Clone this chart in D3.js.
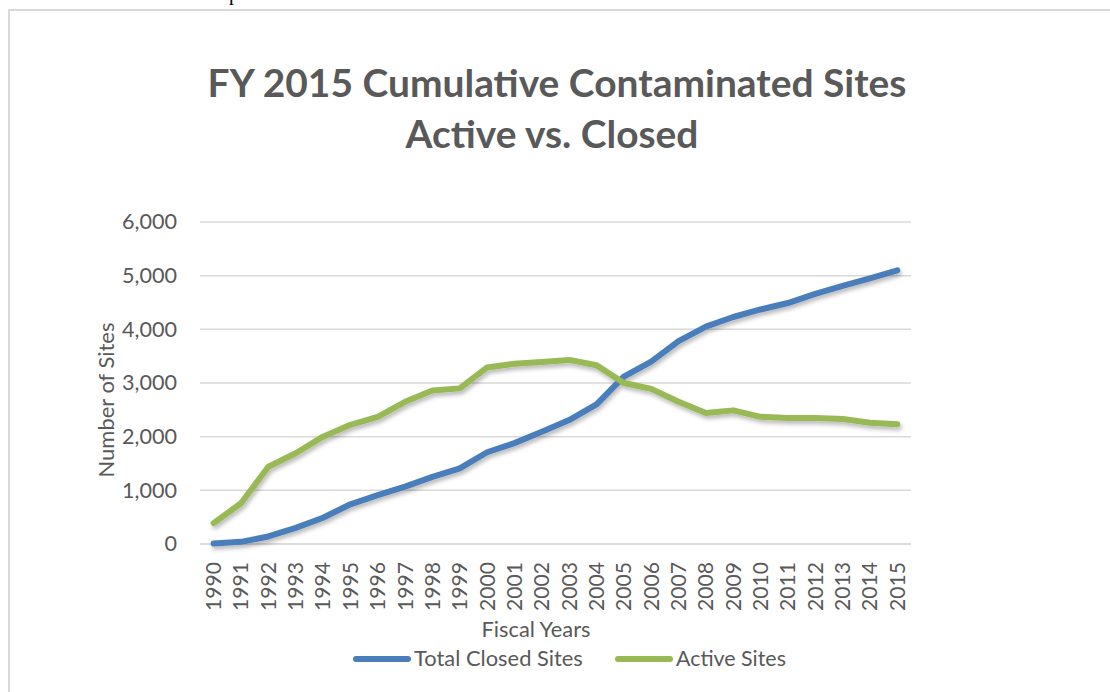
<!DOCTYPE html>
<html>
<head>
<meta charset="utf-8">
<script src="https://cdn.jsdelivr.net/npm/d3@7/dist/d3.min.js"></script>
<style>
  html, body { margin: 0; padding: 0; background: #fff; }
  svg { display: block; font-family: Lato, "Open Sans", sans-serif; }
</style>
</head>
<body>
<div id="chart"></div>
<script>
// Values
const years = ["1990", "1991", "1992", "1993", "1994", "1995", "1996", "1997", "1998", "1999",
    "2000", "2001", "2002", "2003", "2004", "2005", "2006", "2007", "2008", "2009",
    "2010", "2011", "2012", "2013", "2014", "2015"];
const closedSites = [10, 40, 140, 300, 490, 740, 910, 1070, 1250, 1410,
    1710, 1880, 2090, 2310, 2600, 3120, 3400, 3780, 4050, 4230,
    4370, 4490, 4660, 4810, 4950, 5100];
const activeSites = [390, 760, 1440, 1690, 2000, 2220, 2370, 2650, 2860, 2900,
    3290, 3360, 3390, 3430, 3330, 3000, 2890, 2650, 2440, 2490,
    2370, 2350, 2350, 2330, 2260, 2230];
const yTicks = [0, 1000, 2000, 3000, 4000, 5000, 6000];
const series = [
    {name: "Total Closed Sites", values: closedSites, colour: "#4a7ebb"},
    {name: "Active Sites", values: activeSites, colour: "#98b954"}
];

const W = 1110, H = 692;
const TEXT = "#595959";
const GRID = "#d9d9d9";
const plot = {left: 200, right: 911, top: 222, bottom: 544};

const svg = d3.select("#chart").append("svg")
    .attr("width", W)
    .attr("height", H);

// scale a text's font-size so it spans the given width
function fitWidth(sel, width) {
    const node = sel.node();
    const size = parseFloat(sel.style("font-size"));
    const len = node.getComputedTextLength();
    sel.style("font-size", (size * width / len) + "px");
    return size * width / len;
}

const defs = svg.append("defs");
const shadow = defs.append("filter").attr("id", "shadow")
    .attr("x", "-10%").attr("y", "-10%").attr("width", "120%").attr("height", "130%");
shadow.append("feDropShadow")
    .attr("dx", 1.5).attr("dy", 3).attr("stdDeviation", 2)
    .attr("flood-color", "#000").attr("flood-opacity", 0.28);

// cut-off text above the chart frame
svg.append("text")
    .attr("x", 229).attr("y", 0)
    .style("font-family", "'Liberation Serif', serif")
    .style("font-size", "20px")
    .attr("fill", "#000")
    .text("p");

// chart frame
svg.append("rect")
    .attr("x", 9).attr("y", 10)
    .attr("width", 1300).attr("height", 900)
    .attr("fill", "none")
    .attr("stroke", GRID)
    .attr("stroke-width", 2);

// title
const t1 = svg.append("text")
    .attr("x", 557).attr("y", 97)
    .attr("text-anchor", "middle")
    .attr("fill", TEXT)
    .style("font-weight", "bold")
    .style("font-size", "40px")
    .text("FY 2015 Cumulative Contaminated Sites");
fitWidth(t1, 699);
const t2 = svg.append("text")
    .attr("x", 552).attr("y", 148)
    .attr("text-anchor", "middle")
    .attr("fill", TEXT)
    .style("font-weight", "bold")
    .style("font-size", "40px")
    .text("Active vs. Closed");
fitWidth(t2, 293);

// scales
const x = d3.scaleBand().domain(years).range([plot.left, plot.right]);
const y = d3.scaleLinear().domain([0, 6000]).range([plot.bottom, plot.top]);

// gridlines
svg.append("g")
    .selectAll("line")
    .data(yTicks)
    .join("line")
    .attr("x1", plot.left).attr("x2", plot.right)
    .attr("y1", d => y(d)).attr("y2", d => y(d))
    .attr("stroke", GRID)
    .attr("stroke-width", 1.5);

// y axis labels
const yAxis = svg.append("g")
    .attr("transform", `translate(${plot.left - 23},0)`)
    .call(d3.axisLeft(y).tickValues(yTicks).tickFormat(d3.format(",")).tickSize(0).tickPadding(0));
yAxis.select(".domain").remove();
yAxis.selectAll("text")
    .attr("fill", TEXT)
    .style("font-family", "Lato, sans-serif")
    .style("font-size", "20px");
const ySize = fitWidth(yAxis.selectAll("text").filter(d => d === 6000), 55);
yAxis.selectAll("text").style("font-size", ySize + "px");

// x axis labels
const xAxis = svg.append("g")
    .attr("transform", `translate(0,${plot.bottom})`)
    .call(d3.axisBottom(x).tickSize(0).tickPadding(0));
xAxis.select(".domain").remove();
xAxis.selectAll("text")
    .attr("fill", TEXT)
    .style("font-family", "Lato, sans-serif")
    .style("font-size", "20px")
    .attr("transform", "rotate(-90)")
    .attr("x", -18).attr("y", 0)
    .attr("dy", "0.35em")
    .attr("text-anchor", "end");
const xSize = fitWidth(xAxis.selectAll("text").filter(d => d === "1990"), 49);
xAxis.selectAll("text").style("font-size", xSize + "px");

// axis line
svg.append("line")
    .attr("x1", plot.left).attr("x2", plot.right)
    .attr("y1", y(0)).attr("y2", y(0))
    .attr("stroke", GRID)
    .attr("stroke-width", 1.5);

// axis titles
const yTitle = svg.append("text")
    .attr("transform", "translate(114,400) rotate(-90)")
    .attr("text-anchor", "middle")
    .attr("fill", TEXT)
    .style("font-size", "20px")
    .text("Number of Sites");
fitWidth(yTitle, 155);

const xTitle = svg.append("text")
    .attr("x", 536).attr("y", 637)
    .attr("text-anchor", "middle")
    .attr("fill", TEXT)
    .style("font-size", "20px")
    .text("Fiscal Years");
fitWidth(xTitle, 109);

// lines
const line = d3.line()
    .x((d, i) => x(years[i]) + x.bandwidth() / 2)
    .y(d => y(d));

svg.append("g")
    .attr("filter", "url(#shadow)")
    .selectAll("path")
    .data(series)
    .join("path")
    .attr("d", d => line(d.values))
    .attr("fill", "none")
    .attr("stroke", d => d.colour)
    .attr("stroke-width", 6)
    .attr("stroke-linejoin", "round")
    .attr("stroke-linecap", "round");

// legend
const legendPos = [
    {x1: 356, x2: 408, tx: 414, w: 169},
    {x1: 618, x2: 670, tx: 676, w: 110}
];
const legend = svg.append("g")
    .selectAll("g")
    .data(series)
    .join("g");
legend.append("line")
    .attr("x1", (d, i) => legendPos[i].x1)
    .attr("x2", (d, i) => legendPos[i].x2)
    .attr("y1", 659).attr("y2", 659)
    .attr("stroke", d => d.colour)
    .attr("stroke-width", 6)
    .attr("stroke-linecap", "round");
legend.append("text")
    .attr("x", (d, i) => legendPos[i].tx)
    .attr("y", 666)
    .attr("fill", TEXT)
    .style("font-size", "20px")
    .text(d => d.name)
    .each(function (d, i) { fitWidth(d3.select(this), legendPos[i].w); });
</script>
</body>
</html>
